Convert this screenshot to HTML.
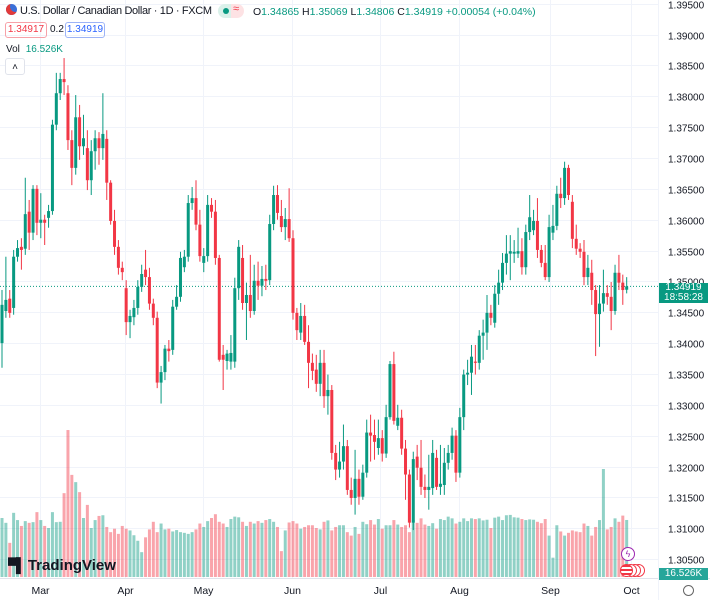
<!DOCTYPE html>
<html><head><meta charset="utf-8"><style>
html,body{margin:0;padding:0;background:#fff;width:710px;height:600px;overflow:hidden;font-family:"Liberation Sans",sans-serif}
#wrap{position:relative;width:710px;height:600px}
svg{position:absolute;left:0;top:0}
</style></head><body>
<div id="wrap">
<svg id="chart" width="710" height="600"></svg>

<div style="position:absolute;left:6px;top:4px;font-size:11px;color:#131722;white-space:nowrap;letter-spacing:-0.35px">
<span style="display:inline-block;width:11px;height:11px;border-radius:50%;background:#3b6fd8;vertical-align:-1px;margin-right:3px;box-shadow:inset 4px -3px 0 #e23a3a"></span>U.S. Dollar / Canadian Dollar · 1D · FXCM</div>
<div style="position:absolute;left:218px;top:4px;width:26px;height:14px;border-radius:7px;background:linear-gradient(90deg,#daf1ea 50%,#fde2e4 50%)">
<span style="position:absolute;left:5px;top:4px;width:6px;height:6px;border-radius:50%;background:#089981"></span><span style="position:absolute;left:15px;top:-1px;font-size:11px;color:#f23645">≈</span></div>
<div style="position:absolute;left:253px;top:6px;font-size:10.5px;color:#131722;white-space:nowrap">O<span style="color:#089981">1.34865</span> H<span style="color:#089981">1.35069</span> L<span style="color:#089981">1.34806</span> C<span style="color:#089981">1.34919 +0.00054 (+0.04%)</span></div>
<div style="position:absolute;left:5px;top:22px;width:40px;height:14px;border:1px solid #f7a1a8;border-radius:3px;color:#f23645;font-size:10px;line-height:14px;text-align:center">1.34917</div>
<div style="position:absolute;left:50px;top:24px;font-size:10px;color:#131722">0.2</div>
<div style="position:absolute;left:65px;top:22px;width:38px;height:14px;border:1px solid #9db4f7;border-radius:3px;color:#2962ff;font-size:10px;line-height:14px;text-align:center">1.34919</div>
<div style="position:absolute;left:6px;top:44px;font-size:10px;color:#131722">Vol <span style="color:#089981;margin-left:3px">16.526K</span></div>
<div style="position:absolute;left:5px;top:58px;width:18px;height:15px;border:1px solid #e0e3eb;border-radius:3px;background:#fff;font-size:10px;text-align:center;line-height:17px;color:#131722">˄</div>
<div style="position:absolute;left:8px;top:557px;font-size:15px;font-weight:bold;color:#131722;white-space:nowrap"><span style="font-size:14px;letter-spacing:-2px;margin-right:4px">▀▌</span>TradingView</div>
<div style="position:absolute;left:659px;top:283px;width:49px;height:20px;background:#089981;color:#fff;font-size:10px;line-height:10px;text-align:center">1.34919<br>18:58:28</div>
<div style="position:absolute;left:659px;top:568px;width:49px;height:12px;background:#26a69a;color:#fff;font-size:10px;line-height:12px;text-align:center">16.526K</div>
<div style="position:absolute;left:621px;top:547px;width:12px;height:12px;border:1px solid #9c27b0;border-radius:50%;color:#9c27b0;font-size:9px;line-height:12px;text-align:center;background:#fff">ϟ</div>
<div style="position:absolute;left:620px;top:564px;width:26px;height:13px">
<span style="position:absolute;left:12px;top:0;width:11px;height:11px;border:1px solid #f23645;border-radius:50%;background:#fff"></span>
<span style="position:absolute;left:8px;top:0;width:11px;height:11px;border:1px solid #f23645;border-radius:50%;background:#fff"></span>
<span style="position:absolute;left:4px;top:0;width:11px;height:11px;border:1px solid #f23645;border-radius:50%;background:#fff"></span>
<span style="position:absolute;left:0;top:0;width:11px;height:11px;border:1px solid #f23645;border-radius:50%;background:repeating-linear-gradient(#f23645 0 2px,#fff 2px 4px)"></span></div>
<div style="position:absolute;left:683px;top:585px;width:9px;height:9px;border:1.5px solid #666;border-radius:50%"></div>
</div>
<script>
const opens=[1.3400,1.3452,1.3472,1.3457,1.3540,1.3556,1.3553,1.3613,1.3579,1.3650,1.3595,1.3600,1.3603,1.3614,1.3754,1.3805,1.3828,1.3805,1.3729,1.3684,1.3766,1.3719,1.3716,1.3664,1.3711,1.3732,1.3716,1.3731,1.3660,1.3598,1.3556,1.3522,1.3489,1.3434,1.3442,1.3457,1.3491,1.3519,1.3507,1.3464,1.3441,1.3336,1.3353,1.3391,1.3389,1.3459,1.3475,1.3523,1.3540,1.3627,1.3635,1.3592,1.3530,1.3541,1.3624,1.3613,1.3538,1.3381,1.3371,1.3370,1.3370,1.3489,1.3538,1.3465,1.3478,1.3452,1.3501,1.3493,1.3504,1.3502,1.3593,1.3640,1.3606,1.3588,1.3601,1.3570,1.3449,1.3417,1.3444,1.3402,1.3368,1.3357,1.3334,1.3368,1.3314,1.3324,1.3222,1.3195,1.3208,1.3233,1.3162,1.3149,1.3180,1.3151,1.3190,1.3255,1.3251,1.3230,1.3246,1.3221,1.3280,1.3366,1.3266,1.3279,1.3229,1.3187,1.3109,1.3216,1.3198,1.3167,1.3162,1.3165,1.3214,1.3167,1.3170,1.3206,1.3222,1.3250,1.3190,1.3280,1.3349,1.3352,1.3370,1.3368,1.3412,1.3417,1.3449,1.3433,1.3480,1.3498,1.3530,1.3545,1.3545,1.3545,1.3549,1.3523,1.3580,1.3583,1.3598,1.3551,1.3530,1.3507,1.3579,1.3590,1.3642,1.3635,1.3684,1.3629,1.3569,1.3553,1.3548,1.3507,1.3514,1.3486,1.3447,1.3464,1.3481,1.3475,1.3452,1.3514,1.3498,1.34865];
const highs=[1.3486,1.3540,1.3486,1.3551,1.3567,1.3570,1.3668,1.3632,1.3656,1.3656,1.3643,1.3608,1.3624,1.3762,1.3838,1.3838,1.3862,1.3818,1.3745,1.3802,1.3786,1.3770,1.3745,1.3729,1.3745,1.3742,1.3805,1.3745,1.3664,1.3616,1.3567,1.3532,1.3502,1.3454,1.3470,1.3502,1.3527,1.3551,1.3522,1.3472,1.3451,1.3363,1.3397,1.3405,1.3470,1.3494,1.3548,1.3551,1.3640,1.3653,1.3664,1.3616,1.3554,1.3640,1.3635,1.3632,1.3543,1.3397,1.3389,1.3413,1.3506,1.3567,1.3559,1.3498,1.3543,1.3527,1.3532,1.3525,1.3527,1.3608,1.3655,1.3656,1.3632,1.3619,1.3651,1.3583,1.3457,1.3465,1.3462,1.3429,1.3383,1.3381,1.3389,1.3389,1.3349,1.3332,1.3235,1.3240,1.3268,1.3243,1.3182,1.3227,1.3195,1.3203,1.3276,1.3284,1.3276,1.3276,1.3259,1.3300,1.3371,1.3386,1.3300,1.3292,1.3243,1.3195,1.3224,1.3235,1.3243,1.3187,1.3219,1.3243,1.3227,1.3235,1.3230,1.3235,1.3263,1.3259,1.3295,1.3357,1.3373,1.3397,1.3397,1.3421,1.3438,1.3478,1.3462,1.3494,1.3519,1.3546,1.3575,1.3575,1.3567,1.3587,1.3570,1.3592,1.3640,1.3616,1.3635,1.3559,1.3559,1.3608,1.3624,1.3655,1.3668,1.3694,1.3689,1.3640,1.3592,1.3562,1.3567,1.3543,1.3535,1.3494,1.3494,1.3519,1.3494,1.3499,1.3527,1.3543,1.3511,1.35069];
const lows=[1.3360,1.3441,1.3441,1.3446,1.3532,1.3519,1.3543,1.3551,1.3567,1.3575,1.3570,1.3559,1.3587,1.3608,1.3745,1.3794,1.3802,1.3713,1.3656,1.3673,1.3697,1.3705,1.3648,1.3640,1.3681,1.3689,1.3697,1.3632,1.3592,1.3543,1.3511,1.3502,1.3413,1.3408,1.3429,1.3446,1.3483,1.3494,1.3454,1.3429,1.3327,1.3302,1.3340,1.3370,1.3381,1.3454,1.3467,1.3515,1.3532,1.3616,1.3583,1.3532,1.3515,1.3532,1.3603,1.3527,1.3370,1.3324,1.3357,1.3357,1.3360,1.3470,1.3454,1.3405,1.3441,1.3446,1.3470,1.3476,1.3486,1.3494,1.3583,1.3600,1.3580,1.3567,1.3564,1.3438,1.3405,1.3405,1.3397,1.3327,1.3340,1.3321,1.3314,1.3295,1.3284,1.3211,1.3178,1.3182,1.3195,1.3154,1.3138,1.3122,1.3138,1.3146,1.3182,1.3208,1.3211,1.3219,1.3208,1.3214,1.3276,1.3268,1.3259,1.3219,1.3146,1.3101,1.3097,1.3178,1.3154,1.3149,1.3130,1.3154,1.3162,1.3154,1.3154,1.3195,1.3211,1.3175,1.3182,1.3259,1.3332,1.3316,1.3349,1.3357,1.3373,1.3389,1.3429,1.3425,1.3462,1.3486,1.3511,1.3502,1.3530,1.3538,1.3511,1.3511,1.3567,1.3575,1.3538,1.3523,1.3502,1.3499,1.3567,1.3583,1.3619,1.3624,1.3632,1.3554,1.3543,1.3538,1.3494,1.3494,1.3462,1.3379,1.3394,1.3451,1.3462,1.3421,1.3446,1.3486,1.3462,1.34806];
const closes=[1.3462,1.3470,1.3449,1.3540,1.3554,1.3551,1.3609,1.3579,1.3650,1.3595,1.3600,1.3595,1.3614,1.3754,1.3805,1.3828,1.3823,1.3729,1.3684,1.3766,1.3719,1.3732,1.3664,1.3711,1.3732,1.3716,1.3739,1.3660,1.3598,1.3556,1.3522,1.3515,1.3434,1.3444,1.3457,1.3491,1.3512,1.3507,1.3464,1.3441,1.3336,1.3353,1.3391,1.3387,1.3459,1.3475,1.3538,1.3540,1.3627,1.3635,1.3592,1.3541,1.3541,1.3624,1.3613,1.3538,1.3373,1.3373,1.3383,1.3384,1.3489,1.3556,1.3465,1.3478,1.3452,1.3501,1.3493,1.3504,1.3501,1.3593,1.3640,1.3611,1.3588,1.3601,1.3570,1.3449,1.3421,1.3444,1.3402,1.3368,1.3355,1.3334,1.3368,1.3314,1.3324,1.3222,1.3195,1.3208,1.3233,1.3162,1.3149,1.3180,1.3151,1.3190,1.3255,1.3250,1.3240,1.3246,1.3221,1.3280,1.3366,1.3274,1.3279,1.3229,1.3187,1.3109,1.3212,1.3198,1.3167,1.3162,1.3167,1.3222,1.3167,1.3172,1.3206,1.3222,1.3250,1.3190,1.3280,1.3349,1.3352,1.3378,1.3368,1.3412,1.3417,1.3449,1.3441,1.3480,1.3498,1.3530,1.3545,1.3549,1.3548,1.3549,1.3523,1.3580,1.3604,1.3598,1.3551,1.3530,1.3507,1.3588,1.3590,1.3642,1.3635,1.3684,1.3640,1.3569,1.3553,1.3548,1.3507,1.3522,1.3486,1.3447,1.3464,1.3481,1.3475,1.3452,1.3514,1.3498,1.3486,1.34919];
const volumes=[17.1,15.7,9.9,18.6,16.5,14.8,16.2,15.7,15.9,18.8,16.5,14.8,14.2,18.8,15.9,16.0,24.3,42.6,29.6,27.5,24.6,17.1,20.9,14.2,16.5,17.7,17.9,14.5,13.0,
14.0,12.5,14.8,14.0,13.5,12.1,10.5,7.2,11.5,13.8,16.0,13.0,15.5,13.8,14.0,13.2,13.6,13.0,12.8,12.5,13.0,13.8,15.5,14.5,16.2,17.1,18.2,16.0,
15.5,14.5,16.8,17.5,17.3,16.0,14.8,16.0,15.5,16.2,15.7,16.5,16.8,16.0,14.5,7.5,13.5,15.8,16.2,15.5,14.0,14.5,15.0,15.0,14.2,13.8,16.0,16.4,13.5,
14.5,15.0,15.0,13.0,12.0,14.5,12.5,16.0,15.3,16.5,15.2,16.8,14.0,15.0,15.0,16.5,15.2,14.5,15.0,13.0,16.5,15.7,17.0,15.2,14.8,15.6,14.0,16.8,16.5,17.5,17.0,15.5,16.0,17.0,
16.2,17.0,16.8,17.0,16.4,16.6,14.2,17.2,17.5,16.5,17.9,18.0,17.3,17.2,16.8,16.5,16.7,16.6,
16.0,15.6,16.8,12.0,5.6,15.0,13.2,12.0,12.8,13.5,13.2,13.0,15.5,14.8,12.0,14.5,16.5,31.3,13.8,14.5,17.0,16.0,17.8,16.526];
const priceTicks=[1.395,1.39,1.385,1.38,1.375,1.37,1.365,1.36,1.355,1.35,1.345,1.34,1.335,1.33,1.325,1.32,1.315,1.31,1.305];
const monthLabels=["Mar","Apr","May","Jun","Jul","Aug","Sep","Oct"];
const monthIndex=[9.8,31.7,51.8,74.7,97.4,117.8,141.3,162.1];
const lastPrice=1.34919;

const NS="http://www.w3.org/2000/svg";
const svg=document.getElementById('chart');
const PLOT_R=658;
function yScale(p){return 158+(1.37-p)/0.005*30.85;}
function xScale(i){return 2+i*3.88;}
function vScale(v){return 577-v*3.45;}
function mk(tag,attrs,parent){const e=document.createElementNS(NS,tag);for(const k in attrs)e.setAttribute(k,attrs[k]);(parent||svg).appendChild(e);return e;}

const grid=mk('g',{});


priceTicks.forEach(t=>{
  const y=Math.round(yScale(t))+0.5;
  const l=mk('line',{x1:0,x2:PLOT_R,y1:y,y2:y,stroke:'#f0f3fa','stroke-width':1},grid);
  
  
  const tx=mk('text',{x:668,y:y+4,'font-size':10,fill:'#131722','font-family':'Liberation Sans, sans-serif'});
  tx.textContent=t.toFixed(5);
  
  
});
monthIndex.forEach((mi,k)=>{
  const x=Math.round(xScale(mi))+0.5;
  const l=mk('line',{x1:x,x2:x,y1:0,y2:578,stroke:'#f0f3fa','stroke-width':1},grid);
  
  
  const tx=mk('text',{x:x,y:594,'font-size':10.5,fill:'#131722','text-anchor':'middle','font-family':'Liberation Sans, sans-serif'});
  tx.textContent=monthLabels[k];
  
  
});
const ax=mk('line',{x1:0,x2:710,y1:578.5,y2:578.5,stroke:'#e0e3eb'});


const ax2=mk('line',{x1:PLOT_R+0.5,x2:PLOT_R+0.5,y1:0,y2:600,stroke:'#f0f3fa'});



const vg=mk('g',{});


const n=Math.min(opens.length,closes.length,highs.length,lows.length);
for(let i=0;i<volumes.length&&i<n;i++){
  const up=closes[i]>=opens[i];
  const y=vScale(volumes[i]);
  const r=mk('rect',{x:xScale(i)-1.5,y:y,width:3,height:577-y,fill:up?'rgba(8,153,129,0.45)':'rgba(242,54,69,0.45)'},vg);
  
  
}
const pl=mk('line',{x1:0,x2:PLOT_R,y1:yScale(lastPrice),y2:yScale(lastPrice),stroke:'#089981','stroke-width':1,'stroke-dasharray':'1,2'});


const cg=mk('g',{});


for(let i=0;i<n;i++){
  const up=closes[i]>=opens[i];
  const col=up?'#089981':'#f23645';
  const x=xScale(i);
  const w=mk('line',{x1:x,x2:x,y1:yScale(highs[i]),y2:yScale(lows[i]),stroke:col,'stroke-width':1},cg);
  
  
  const yt=yScale(Math.max(opens[i],closes[i])),yb=yScale(Math.min(opens[i],closes[i]));
  const b=mk('rect',{x:x-1.5,y:yt,width:3,height:Math.max(1,yb-yt),fill:col},cg);
  
  
}
</script>
</body></html>
